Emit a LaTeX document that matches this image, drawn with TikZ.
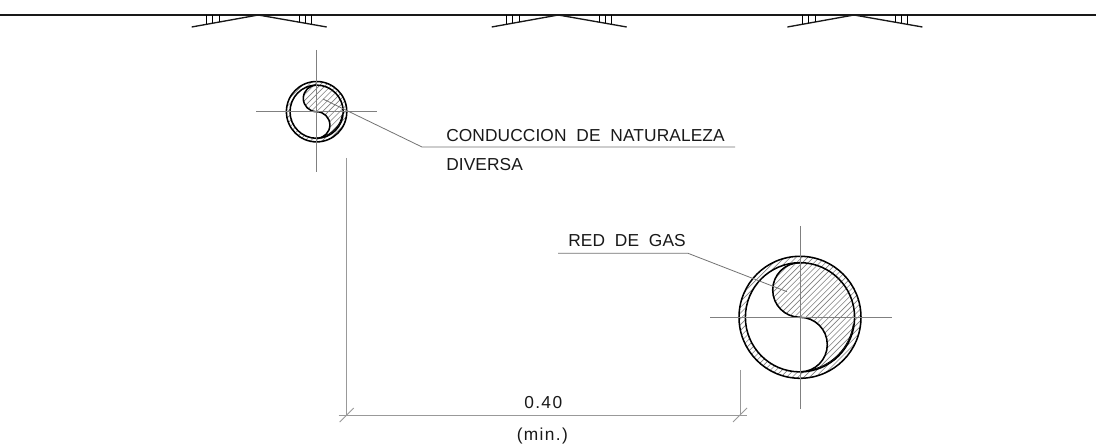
\documentclass[tikz,border=0pt]{standalone}
\usepackage{fontspec}
\setmainfont{Liberation Sans}
\newfontfamily\cadfont[LetterSpace=0.6,WordSpace=2.0]{Liberation Sans}
\newfontfamily\cadnumfont[LetterSpace=8]{Liberation Sans}
\usetikzlibrary{calc}
\tikzset{
  axisline/.style={draw=black!50,line width=0.75pt},
  leaderline/.style={draw=black!55,line width=0.6pt},
  dimline/.style={draw=black!40,line width=0.7pt},
  heavyline/.style={draw=black,line width=1.15pt},
  roofline/.style={draw=black!90,line width=1.0pt},
  hatchline/.style={draw=black!50,line width=0.45pt},
  cadtext/.style={inner sep=0pt,anchor=base west,font=\cadfont\fontsize{13pt}{15pt}\selectfont,text=black!90},
  cadnum/.style={cadtext,font=\cadnumfont\fontsize{13pt}{15pt}\selectfont}
}
\newcommand{\hatchfill}[2]{% centre, half extent
  \foreach \n in {-30,...,30}{
    \draw[hatchline] ($(#1)+({-(#2)},{(#2)+\n*5.8})$) -- ($(#1)+({#2},{-(#2)+\n*5.8})$);
  }
}
\newcommand{\supportunit}[2]{% name, x offset
  \begin{scope}[xshift=#2*0.75pt]
    \coordinate (#1apex) at (258.3,15);
    \coordinate (#1l) at (191.7,27);
    \coordinate (#1r) at (326.7,27);
    \draw[roofline] (#1l) -- (#1apex) -- (#1r);
    \foreach \x in {206.7,212.9,219.3}{
      \draw[draw=black,line width=0.7pt] (\x,15) -- (\x,{15+12*(258.3-\x)/66.6});
    }
    \foreach \x in {299.3,305.3,311.7}{
      \draw[draw=black,line width=0.7pt] (\x,15) -- (\x,{15+12*(\x-258.3)/68.4});
    }
  \end{scope}
}
\newcommand{\pipe}[5]{% name, cx, cy, outer r, inner r
  \coordinate (#1) at (#2,#3);
  \pgfmathsetmacro{\lobe}{#5/2}
  \pgfmathsetmacro{\extent}{2*#4}
  % annulus hatching
  \begin{scope}[even odd rule]
    \clip (#1) circle[radius=#4] (#1) circle[radius=#5];
    \hatchfill{#1}{\extent}
  \end{scope}
  % half-moon hatching
  \begin{scope}
    \clip ($(#1)+(0,-#5)$) arc[start angle=-90,end angle=-270,radius=\lobe]
      arc[start angle=-90,end angle=90,radius=\lobe]
      arc[start angle=90,end angle=-90,radius=#5] -- cycle;
    \hatchfill{#1}{\extent}
  \end{scope}
  \draw[heavyline] (#1) circle[radius=#4];
  \draw[heavyline] (#1) circle[radius=#5];
  \draw[heavyline] ($(#1)+(0,-#5)$) arc[start angle=-90,end angle=-270,radius=\lobe]
      arc[start angle=-90,end angle=90,radius=\lobe];
  % doubled inner wall at the lower right
  \draw[heavyline,line width=0.6pt] ($(#1)+(-0.8,-0.8)+(8:#5)$) arc[start angle=8,end angle=78,radius=#5];
}
\begin{document}
\begin{tikzpicture}[x=0.75pt,y=-0.75pt]
  \useasboundingbox (0,0) rectangle (1097,448);
  \fill[white] (0,0) rectangle (1097,448);
  % top line and supports
  \coordinate (topL) at (0,15);
  \coordinate (topR) at (1096,15);
  \draw[roofline] (topL) -- (topR);
  \supportunit{a}{0}
  \supportunit{b}{300}
  \supportunit{c}{595.7}
  % pipes
  \pipe{small}{316.6}{111.7}{30.2}{26.6}
  \pipe{big}{800}{317.3}{61}{54.6}
  % centre lines
  \draw[axisline] (256,111.7) -- (377,111.7);
  \draw[axisline] (316.6,50) -- (316.6,172);
  \draw[axisline] (710,317.3) -- (891.5,317.3);
  \draw[axisline] (800,226) -- (800,409);
  % leaders
  \coordinate (smallTip) at (323,99);
  \coordinate (smallKnee) at (422,147);
  \coordinate (smallEnd) at (735,147);
  \draw[leaderline] (smallTip) -- (smallKnee) -- (smallEnd);
  \coordinate (bigTip) at (787,291.7);
  \coordinate (bigKnee) at (688,253.3);
  \coordinate (bigEnd) at (558,253.3);
  \draw[leaderline] (bigTip) -- (bigKnee) -- (bigEnd);
  % dimension
  \coordinate (dimL) at (346.7,415);
  \coordinate (dimR) at (740,415);
  \coordinate (dimLtop) at (346.7,158);
  \coordinate (dimRtop) at (740,370);
  \draw[dimline] (dimLtop) -- (dimL);
  \draw[dimline] (dimRtop) -- (dimR);
  \draw[dimline] ($(dimL)+(-8,0)$) -- ($(dimR)+(7,0)$);
  \draw[dimline] ($(dimL)+(-7,7)$) -- ($(dimL)+(7,-7)$);
  \draw[dimline] ($(dimR)+(-7,7)$) -- ($(dimR)+(7,-7)$);
  % texts
  \node[cadtext] (t1) at (446,142) {CONDUCCION DE NATURALEZA};
  \node[cadtext] (t2) at (446,171) {DIVERSA};
  \node[cadtext] (t3) at (568,247) {RED DE GAS};
  \node[cadnum] (t4) at (524,409) {0.40};
  \node[cadnum] (t5) at (516.5,441) {(min.)};
\end{tikzpicture}
\end{document}
